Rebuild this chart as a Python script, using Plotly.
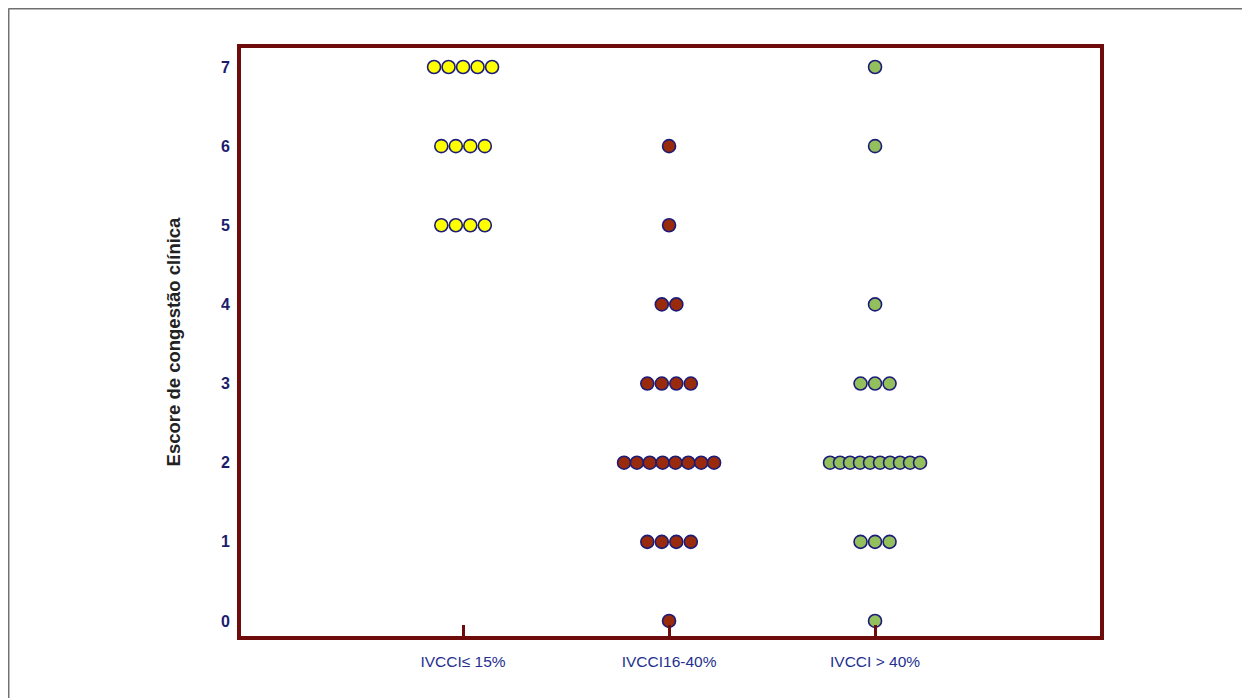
import plotly.graph_objects as go

categories = ["IVCCI≤ 15%", "IVCCI16-40%", "IVCCI > 40%"]
# scores of each patient, per group
scores_low = [7, 7, 7, 7, 7, 6, 6, 6, 6, 5, 5, 5, 5]
scores_mid = [6, 5, 4, 4, 3, 3, 3, 3, 2, 2, 2, 2, 2, 2, 2, 2, 1, 1, 1, 1, 0]
scores_high = [7, 6, 4, 3, 3, 3, 2, 2, 2, 2, 2, 2, 2, 2, 2, 2, 1, 1, 1, 0]
y_ticks = [0, 1, 2, 3, 4, 5, 6, 7]

fill_colors = ["#ffff00", "#9a2a0c", "#93bf5c"]
groups = [scores_low, scores_mid, scores_high]

PX_PER_CAT = 206.0
BASE_STEP = 14.5
MAX_SPAN = 90.0


def beeswarm(idx, vals):
    xs, ys = [], []
    counts = {}
    for v in vals:
        counts[v] = counts.get(v, 0) + 1
    for v, n in counts.items():
        step = BASE_STEP if n <= 1 else min(BASE_STEP, MAX_SPAN / (n - 1))
        for k in range(n):
            off = (k - (n - 1) / 2) * step / PX_PER_CAT
            xs.append(idx + off)
            ys.append(v)
    return xs, ys


fig = go.Figure()
for i, vals in enumerate(groups):
    xs, ys = beeswarm(i, vals)
    fig.add_trace(go.Scatter(
        x=xs, y=ys, mode="markers",
        marker=dict(size=13, color=fill_colors[i],
                    line=dict(color="#1c1c78", width=1.6)),
        showlegend=False, hoverinfo="y",
    ))

frame = "#6e0b0b"
fig.update_layout(
    width=1242, height=690,
    margin=dict(l=233, r=150, t=40, b=62),
    paper_bgcolor="white", plot_bgcolor="white",
    font=dict(family="Liberation Sans, Arial, sans-serif"),
    xaxis=dict(
        range=[-1.078, 3.092], tickmode="array",
        tickvals=[0, 1, 2], ticktext=categories,
        showgrid=False, zeroline=False,
        showline=True, linecolor=frame, linewidth=4, mirror=True,
        ticks="inside", ticklen=11, tickwidth=3, tickcolor=frame,
        tickfont=dict(size=15.5, color="#24308f"),
        ticklabelstandoff=8,
    ),
    yaxis=dict(
        range=[-0.19, 7.24], tickmode="array",
        tickvals=y_ticks, ticktext=["<b>%d</b>" % t for t in y_ticks],
        showgrid=False, zeroline=False,
        showline=True, linecolor=frame, linewidth=4, mirror=True,
        ticks="",
        tickfont=dict(size=16, color="#1c1c6e", family="Liberation Sans, Arial"),
        ticklabelstandoff=4,
        title=dict(text="<b>Escore de congestão clínica</b>",
                   font=dict(size=18.5, color="#222222"), standoff=36),
    ),
    shapes=[
        dict(type="line", xref="paper", yref="paper",
             x0=-0.2707, x1=1.2, y0=1.0672, y1=1.0672,
             line=dict(color="#707070", width=2)),
        dict(type="line", xref="paper", yref="paper",
             x0=-0.2707, x1=-0.2707, y0=1.0672, y1=-0.12,
             line=dict(color="#707070", width=2)),
    ],
)

fig.write_html("out.html")
